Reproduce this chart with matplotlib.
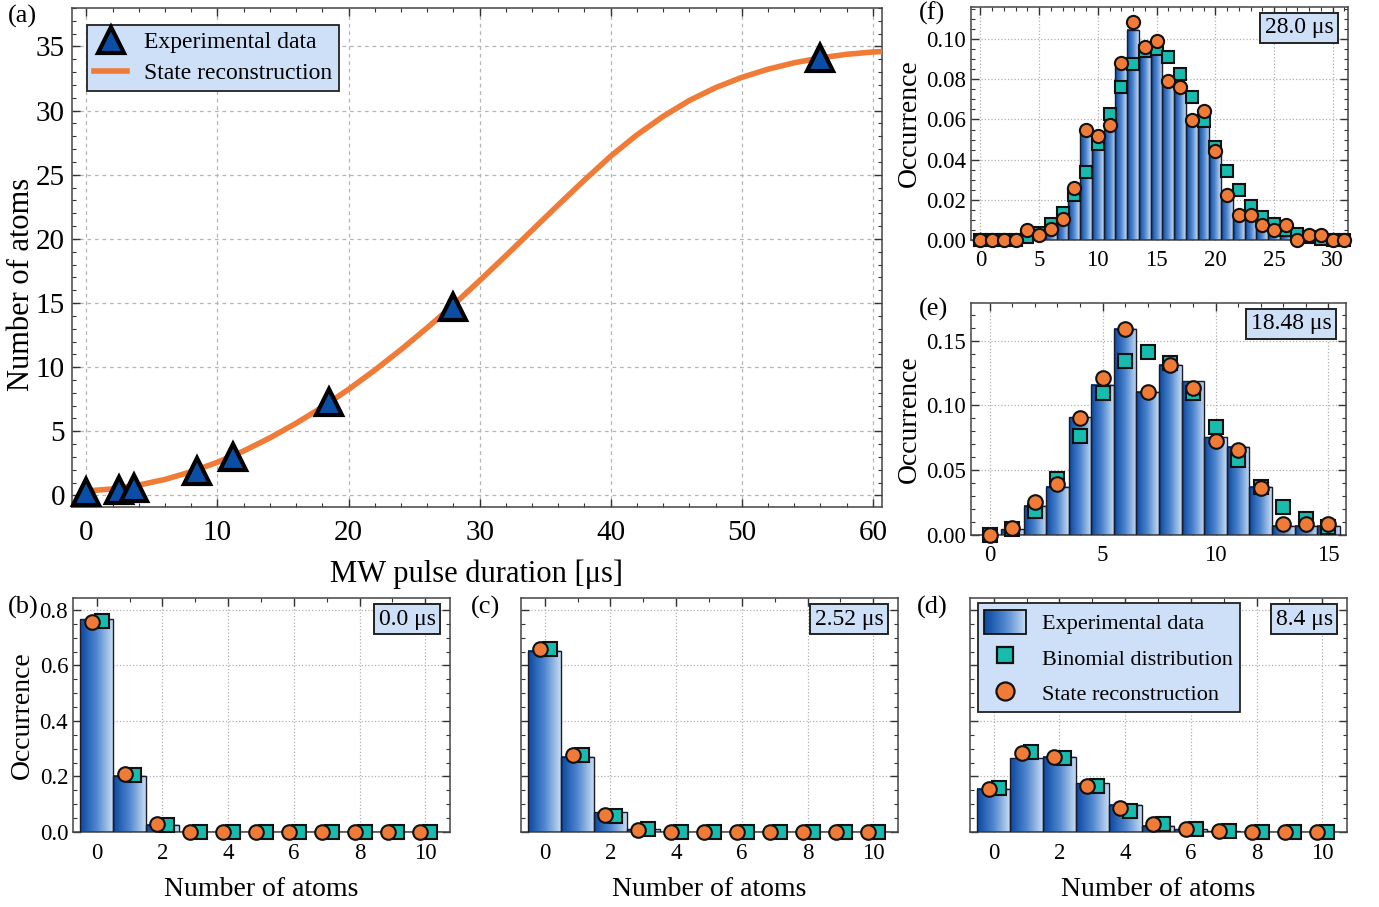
import numpy as np
import matplotlib
matplotlib.use("Agg")
import matplotlib.pyplot as plt
from matplotlib.colors import LinearSegmentedColormap
from matplotlib.patches import Rectangle
from matplotlib.lines import Line2D
from matplotlib.legend_handler import HandlerBase
from matplotlib.ticker import MultipleLocator, FormatStrFormatter

plt.rcParams['font.family'] = ['Liberation Serif', 'DejaVu Serif']
plt.rcParams['mathtext.fontset'] = 'stix'

# ---- panel (a): mean atom number vs pulse duration ----
t_exp = [0.0, 2.52, 3.6, 8.4, 11.2, 18.48, 28.0, 56.0]
n_exp = [0.25, 0.45, 0.6, 1.9, 3.0, 7.3, 14.7, 34.1]

t_rec = [0, 2, 4, 6, 8, 10, 12, 14, 16, 18, 20, 22, 24, 26, 28, 30, 32, 34, 36,
         38, 40, 42, 44, 46, 48, 50, 52, 54, 56, 58, 60, 61]
n_rec = [0.35, 0.51, 0.81, 1.25, 1.85, 2.59, 3.47, 4.49, 5.63, 6.89, 8.27, 9.77,
         11.37, 13.07, 14.85, 16.75, 18.69, 20.67, 22.65, 24.59, 26.45, 28.11,
         29.55, 30.79, 31.79, 32.59, 33.23, 33.73, 34.11, 34.39, 34.57, 34.62]

# ---- histograms: experimental, binomial, reconstruction ----
n_b = list(range(11))
exp_b = [0.766, 0.203, 0.026, 0, 0, 0, 0, 0, 0, 0, 0]
bin_b = [0.760, 0.207, 0.026, 0, 0, 0, 0, 0, 0, 0, 0]
rec_b = [0.758, 0.210, 0.030, 0, 0, 0, 0, 0, 0, 0, 0]

n_c = list(range(11))
exp_c = [0.653, 0.271, 0.072, 0.0096, 0, 0, 0, 0, 0, 0, 0]
bin_c = [0.661, 0.276, 0.058, 0.011, 0, 0, 0, 0, 0, 0, 0]
rec_c = [0.658, 0.278, 0.060, 0.008, 0, 0, 0, 0, 0, 0, 0]

n_d = list(range(11))
exp_d = [0.155, 0.265, 0.271, 0.175, 0.099, 0.022, 0.0096, 0.003, 0, 0, 0]
bin_d = [0.160, 0.290, 0.266, 0.164, 0.076, 0.030, 0.011, 0.003, 0, 0, 0]
rec_d = [0.154, 0.283, 0.269, 0.167, 0.087, 0.028, 0.0096, 0.002, 0, 0, 0]

n_e = list(range(16))
exp_e = [0, 0.0046, 0.0224, 0.0373, 0.0908, 0.116, 0.1593, 0.1106, 0.1312, 0.1186,
         0.0756, 0.0682, 0.0373, 0.0072, 0.0072, 0.0072]
bin_e = [0, 0.0044, 0.0185, 0.0435, 0.0764, 0.1099, 0.134, 0.1415, 0.1325, 0.1099,
         0.0836, 0.0581, 0.0373, 0.0219, 0.0121, 0.0059]
rec_e = [0, 0.0057, 0.0252, 0.039, 0.0903, 0.1209, 0.1587, 0.1101, 0.1312, 0.1137,
         0.0725, 0.0653, 0.0363, 0.0082, 0.0082, 0.0082]

n_f = list(range(32))
exp_f = [0, 0, 0, 0, 0.001, 0.005, 0.0086, 0.012, 0.025, 0.0535, 0.049, 0.0556,
         0.0859, 0.1047, 0.0917, 0.0983, 0.0806, 0.0764, 0.059, 0.065, 0.0465,
         0.0228, 0.0116, 0.0116, 0.0075, 0.005, 0.002, 0.0003, 0.001, 0.0013, 0, 0]
bin_f = [0, 0, 0, 0, 0.0017, 0.0037, 0.0078, 0.0133, 0.0224, 0.034, 0.0478, 0.0628,
         0.0764, 0.0875, 0.0939, 0.095, 0.091, 0.0827, 0.0714, 0.059, 0.0465,
         0.0346, 0.025, 0.0171, 0.0116, 0.0078, 0.005, 0.003, 0.0013, 0.0003, 0, 0]
rec_f = [0, 0, 0, 0, 0.005, 0.0025, 0.0053, 0.0103, 0.0257, 0.0548, 0.0518, 0.0573,
         0.088, 0.1086, 0.096, 0.099, 0.079, 0.076, 0.0595, 0.0643, 0.0445, 0.0224,
         0.0125, 0.0125, 0.0075, 0.005, 0.0075, 0, 0.0025, 0.0025, 0, 0]

ORANGE = '#f07b36'
TEAL = '#17bcae'
DARKBLUE = '#0b4ea6'
BOXFC = '#cde0f7'
cmap = LinearSegmentedColormap.from_list('bars', ['#0a48a0', '#4f86cf', '#c6dbf2'])

W, H = 1379, 907
fig = plt.figure(figsize=(W / 100, H / 100), dpi=100)


def add_ax(l, t, r, b):
    return fig.add_axes([l / W, 1 - b / H, (r - l) / W, (b - t) / H])


def style(ax, lsize):
    ax.tick_params(which='both', direction='in', top=True, right=True, labelsize=lsize,
                   color='#333333')
    ax.tick_params(which='major', length=6, width=1)
    ax.tick_params(which='minor', length=3, width=0.8)
    for s in ax.spines.values():
        s.set_color('#444444')
        s.set_linewidth(1.1)


class GradHandler(HandlerBase):
    def create_artists(self, legend, orig, xd, yd, width, height, fontsize, trans):
        arts = []
        n = 40
        for i in range(n):
            arts.append(Rectangle((-xd + width * i / n, -yd), width / n + 0.3, height,
                                  facecolor=cmap(i / (n - 1)), edgecolor='none',
                                  transform=trans))
        arts.append(Rectangle((-xd, -yd), width, height, facecolor='none',
                              edgecolor='#111111', lw=1.3, transform=trans))
        return arts


def histo(ax, n, exp, binom, rec, offset, ms, xlim, ylim, label):
    for x, h in zip(n, exp):
        if h <= 0:
            continue
        ax.imshow(np.linspace(0, 1, 64).reshape(1, -1), cmap=cmap, aspect='auto',
                  extent=(x - 0.5, x + 0.5, 0, h), zorder=2, interpolation='bilinear')
    ax.bar(n, exp, width=1.0, facecolor='none', edgecolor='#1b1b2a', linewidth=1.0,
           zorder=3)
    n = np.array(n, dtype=float)
    ax.plot(n + offset, binom, 's', ms=ms * 0.92, mfc=TEAL, mec='#111111', mew=1.5,
            zorder=5, clip_on=False)
    ax.plot(n - offset, rec, 'o', ms=ms, mfc=ORANGE, mec='#111111', mew=1.5,
            zorder=6, clip_on=False)
    ax.set_xlim(*xlim)
    ax.set_ylim(*ylim)
    ax.grid(True, linestyle=':', color='#b0b0b0', linewidth=0.9, zorder=0)
    ax.set_axisbelow(True)
    ax.text(0.962, 0.955, label, transform=ax.transAxes, ha='right', va='top',
            fontsize=17, zorder=10,
            bbox=dict(boxstyle='square,pad=0.2', fc=BOXFC, ec='#222222', lw=1.4))


# ---- (a) ----
axa = add_ax(72, 8, 882, 507)
axa.plot(t_rec, n_rec, '-', color=ORANGE, lw=4, zorder=3, label='State reconstruction')
axa.plot(t_exp, n_exp, '^', ms=19, mfc=DARKBLUE, mec='black', mew=3, zorder=4,
         label='Experimental data', clip_on=False)
axa.set_xlim(-1.1, 60.7)
axa.set_ylim(-0.9, 38.0)
axa.xaxis.set_major_locator(MultipleLocator(10))
axa.xaxis.set_minor_locator(MultipleLocator(2))
axa.yaxis.set_major_locator(MultipleLocator(5))
axa.yaxis.set_minor_locator(MultipleLocator(1))
style(axa, 21)
axa.tick_params(axis='x', pad=9)
axa.tick_params(axis='y', pad=5)
axa.grid(True, linestyle=(0, (3, 3)), color='#b5b5b5', linewidth=0.9)
axa.set_axisbelow(True)
axa.set_xlabel('MW pulse duration [μs]', fontsize=22, labelpad=10)
axa.set_ylabel('Number of atoms', fontsize=22)
axa.yaxis.set_label_coords(-0.044, 0.447)
hands = [Line2D([], [], marker='^', ls='none', ms=19, mfc=DARKBLUE, mec='black', mew=3),
         Line2D([], [], color=ORANGE, lw=4)]
leg = axa.legend(hands, ['Experimental data', 'State reconstruction'], loc='upper left',
                 bbox_to_anchor=(0.004, 0.99), fontsize=17, fancybox=False,
                 framealpha=1, edgecolor='#222222', facecolor=BOXFC, handlelength=1.4,
                 borderpad=0.3, labelspacing=0.4, handletextpad=0.7)
leg.get_frame().set_linewidth(1.3)

# ---- (f) ----
axf = add_ax(971, 7, 1348, 240)
histo(axf, n_f, exp_f, bin_f, rec_f, 0.0, 9.5, (-0.8, 31.3), (0, 0.116), '28.0 μs')
axf.xaxis.set_major_locator(MultipleLocator(5))
axf.xaxis.set_minor_locator(MultipleLocator(1))
axf.yaxis.set_major_locator(MultipleLocator(0.02))
axf.yaxis.set_minor_locator(MultipleLocator(0.005))
axf.yaxis.set_major_formatter(FormatStrFormatter('%.2f'))
style(axf, 16.5)
axf.tick_params(axis='x', pad=7)
axf.set_ylabel('Occurrence', fontsize=20, labelpad=3)

# ---- (e) ----
axe = add_ax(971, 303, 1346, 535)
histo(axe, n_e, exp_e, bin_e, rec_e, 0.0, 10.5, (-0.83, 15.78), (0, 0.179), '18.48 μs')
axe.xaxis.set_major_locator(MultipleLocator(5))
axe.xaxis.set_minor_locator(MultipleLocator(1))
axe.yaxis.set_major_locator(MultipleLocator(0.05))
axe.yaxis.set_minor_locator(MultipleLocator(0.01))
axe.yaxis.set_major_formatter(FormatStrFormatter('%.2f'))
style(axe, 16.5)
axe.tick_params(axis='x', pad=7)
axe.set_ylabel('Occurrence', fontsize=20, labelpad=3)

# ---- (b), (c), (d) ----
axb = add_ax(73, 598, 450, 832)
axc = add_ax(521, 598, 898, 832)
axd = add_ax(970, 598, 1347, 832)
for ax, n, e, b, r, lab in [(axb, n_b, exp_b, bin_b, rec_b, '0.0 μs'),
                            (axc, n_c, exp_c, bin_c, rec_c, '2.52 μs'),
                            (axd, n_d, exp_d, bin_d, rec_d, '8.4 μs')]:
    histo(ax, n, e, b, r, 0.15, 10.5, (-0.72, 10.75), (0, 0.843), lab)
    ax.xaxis.set_major_locator(MultipleLocator(2))
    ax.xaxis.set_minor_locator(MultipleLocator(1))
    ax.yaxis.set_major_locator(MultipleLocator(0.2))
    ax.yaxis.set_minor_locator(MultipleLocator(0.05))
    ax.yaxis.set_major_formatter(FormatStrFormatter('%.1f'))
    style(ax, 16.5)
    ax.tick_params(axis='x', pad=8)
    ax.set_xlabel('Number of atoms', fontsize=20, labelpad=9)
axb.set_ylabel('Occurrence', fontsize=20, labelpad=3)
axc.tick_params(labelleft=False)
axd.tick_params(labelleft=False)

hd = [Rectangle((0, 0), 1, 1),
      Line2D([], [], marker='s', ls='none', ms=12, mfc=TEAL, mec='#111111', mew=1.6),
      Line2D([], [], marker='o', ls='none', ms=13, mfc=ORANGE, mec='#111111', mew=1.6)]
legd = axd.legend(hd, ['Experimental data', 'Binomial distribution', 'State reconstruction'],
                  handler_map={Rectangle: GradHandler()}, loc='upper left',
                  bbox_to_anchor=(0.02, 0.979), borderaxespad=0, fontsize=16,
                  fancybox=False, framealpha=1, edgecolor='#222222', facecolor=BOXFC,
                  handlelength=1.9, handleheight=1.3, borderpad=0.3, labelspacing=0.5,
                  handletextpad=0.7)
legd.get_frame().set_linewidth(1.3)
legd.set_zorder(10)

# panel letters
for s, x, y in [('(a)', 8, 16), ('(b)', 8, 607), ('(c)', 471, 607), ('(d)', 917, 607),
                ('(e)', 919, 309), ('(f)', 919, 13)]:
    fig.text(x / W, 1 - y / H, s, fontsize=19, ha='left', va='center')

fig.savefig('out.png', dpi=100)
